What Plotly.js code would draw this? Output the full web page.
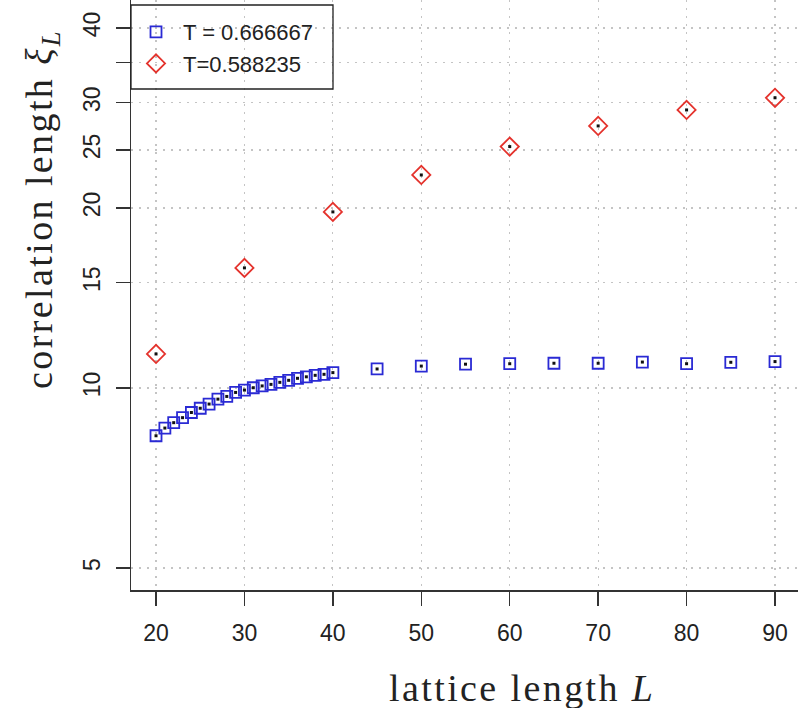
<!DOCTYPE html>
<html>
<head>
<meta charset="utf-8">
<script src="https://cdn.plot.ly/plotly-3.0.1.min.js"></script>
<style>
html,body{margin:0;padding:0;background:#fff;}
#chart{width:798px;height:708px;}
.annotation-text{letter-spacing:2.4px;}
</style>
</head>
<body>
<div id="chart"></div>
<script>
// ---- data ----
const L_blue = [20,21,22,23,24,25,26,27,28,29,30,31,32,33,34,35,36,37,38,39,40,45,50,55,60,65,70,75,80,85,90];
const xi_blue = [8.32,8.57,8.75,8.92,9.10,9.25,9.40,9.58,9.68,9.83,9.92,10.01,10.08,10.14,10.22,10.30,10.38,10.44,10.50,10.54,10.61,10.76,10.88,10.96,10.98,11.00,11.00,11.05,10.98,11.04,11.07];
const L_red = [20,30,40,50,60,70,80,90];
const xi_red = [11.40,15.88,19.70,22.71,25.33,27.43,29.17,30.57];
const name_blue = "T = 0.666667";
const name_red = "T=0.588235";
const xTickVals = [20,30,40,50,60,70,80,90];
const yTickVals = [5,10,15,20,25,30,35,40];
const yTickText = ["5","10","15","20","25","30"," ","40"];

const W = 798, H = 708;
const mL = 131, mR = 0, mT = 0, mB = 118;
const pw = W - mL - mR, ph = H - mT - mB;
const px = p => (p - mL) / pw;
const py = p => 1 - (p - mT) / ph;

const blue = "#2a2ad4", red = "#e4322c";

const traces = [
  {x: L_blue, y: xi_blue, type: "scatter", mode: "markers", name: name_blue,
   marker: {symbol: "square-open", size: 11, color: blue, line: {width: 1.8, color: blue}}},
  {x: L_red, y: xi_red, type: "scatter", mode: "markers", name: name_red,
   marker: {symbol: "diamond-open", size: 14, color: red, line: {width: 1.8, color: red}}},
  {x: L_blue, y: xi_blue, type: "scatter", mode: "markers", showlegend: false, hoverinfo: "skip",
   marker: {symbol: "square", size: 3, color: "#111", line: {width: 0}}},
  {x: L_red, y: xi_red, type: "scatter", mode: "markers", showlegend: false, hoverinfo: "skip",
   marker: {symbol: "square", size: 3, color: "#111", line: {width: 0}}}
];

const tickFont = {family: "Liberation Sans, Arial, sans-serif", size: 23, color: "#222"};
const titleFont = {family: "Liberation Serif, Times New Roman, serif", size: 38, color: "#222"};

const layout = {
  width: W, height: H,
  margin: {l: mL, r: mR, t: mT, b: mB, pad: 0},
  paper_bgcolor: "#fff", plot_bgcolor: "#fff",
  showlegend: true,
  legend: {x: px(129), y: py(11), xanchor: "left", yanchor: "top",
           borderwidth: 0, bgcolor: "rgba(0,0,0,0)",
           font: {family: "Liberation Sans, Arial, sans-serif", size: 22, color: "#222"},
           itemsizing: "trace", itemwidth: 44, entrywidth: 150, entrywidthmode: "pixels"},
  shapes: [
    {type: "rect", xref: "paper", yref: "paper", x0: 0, x1: px(333), y0: py(89), y1: py(5),
     line: {color: "#222", width: 1.3}, fillcolor: "rgba(0,0,0,0)", layer: "above"}
  ],
  xaxis: {range: [17.17, 92.6], tickvals: xTickVals, ticks: "outside", ticklen: 14,
          tickwidth: 1.5, tickcolor: "#333", showline: true, linecolor: "#333", linewidth: 1.5,
          mirror: false, zeroline: false, showgrid: true, gridcolor: "#c4c4c4", griddash: "2px,6px",
          gridwidth: 1.2, tickfont: tickFont, ticklabelstandoff: 8},
  yaxis: {type: "log", range: [0.6622, 1.6488], tickvals: yTickVals, ticktext: yTickText,
          ticks: "outside", ticklen: 14, tickwidth: 1.5, tickcolor: "#333",
          showline: true, linecolor: "#333", linewidth: 1.5, mirror: false, zeroline: false,
          showgrid: true, gridcolor: "#c4c4c4", griddash: "2px,6px", gridwidth: 1.2,
          tickfont: tickFont, tickangle: -90, ticklabelstandoff: 6},
  annotations: [
    {xref: "paper", yref: "paper", x: px(522), y: py(688), xanchor: "center", yanchor: "middle",
     text: "lattice length <i>L</i>", showarrow: false, font: titleFont},
    {xref: "paper", yref: "paper", x: px(42), y: py(209), xanchor: "center", yanchor: "middle",
     text: "correlation length <i>ξ</i><sub><i>L</i></sub>", showarrow: false, textangle: -90, font: titleFont}
  ]
};

Plotly.newPlot("chart", traces, layout, {displayModeBar: false, staticPlot: true});
</script>
</body>
</html>
